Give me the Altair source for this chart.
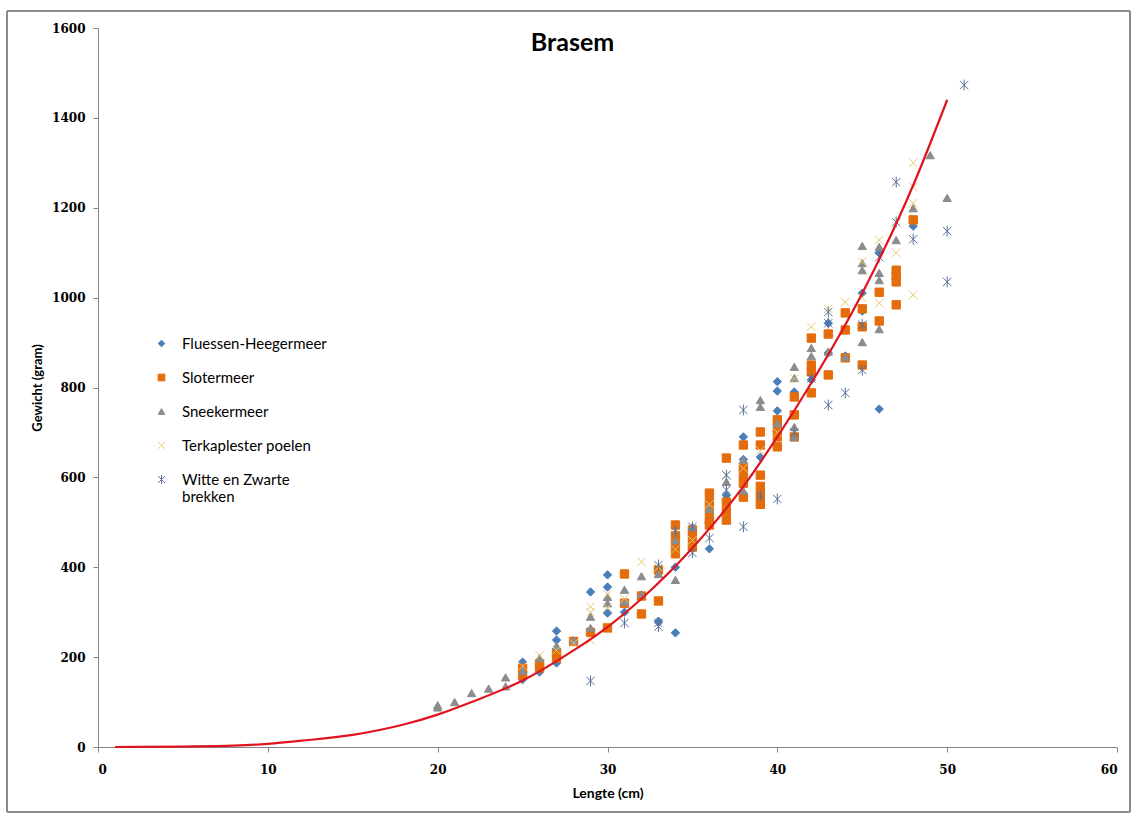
import altair as alt
import pandas as pd

# ---- data ----
series_names = ["Fluessen-Heegermeer", "Slotermeer", "Sneekermeer",
                "Terkaplester poelen", "Witte en Zwarte brekken"]

fh_len = [25, 25, 26, 27, 27, 27, 29, 30, 30, 30, 31, 33, 34, 34, 34, 35, 36, 37,
          38, 38, 39, 40, 40, 40, 41, 42, 42, 43, 43, 44, 45, 45, 46, 46, 48]
fh_wt = [189, 150, 167, 258, 238, 187, 345, 383, 356, 298, 300, 280, 254, 400, 470,
         470, 441, 560, 690, 640, 645, 813, 792, 748, 790, 817, 830, 943, 877, 870,
         1010, 970, 752, 1100, 1159]

sl_len = [25, 25, 26, 26, 27, 27, 28, 29, 30, 31, 31, 32, 32, 33, 33, 34, 34, 34, 34,
          35, 35, 35, 36, 36, 36, 36, 36, 37, 37, 37, 37, 38, 38, 38, 38, 38,
          39, 39, 39, 39, 39, 39, 40, 40, 40, 40, 41, 41, 41, 42, 42, 42, 42,
          43, 43, 44, 44, 44, 45, 45, 45, 46, 46, 47, 47, 47, 47, 48]
sl_wt = [175, 160, 176, 185, 198, 210, 235, 255, 265, 385, 320, 336, 296, 394, 325,
         494, 470, 450, 430, 483, 465, 445, 565, 545, 525, 505, 494, 643, 545, 525,
         505, 672, 623, 605, 587, 556, 701, 672, 605, 580, 560, 540, 728, 710, 690,
         668, 779, 739, 690, 910, 850, 835, 788, 919, 828, 966, 928, 866, 975, 935,
         850, 1012, 948, 1061, 1048, 1035, 984, 1173]

sn_len = [20, 20, 21, 22, 23, 24, 24, 25, 26, 27, 28, 29, 29, 30, 30, 31, 31, 32, 32,
          33, 34, 34, 35, 36, 37, 38, 38, 39, 39, 40, 41, 41, 41, 41, 42, 42, 43,
          44, 45, 45, 45, 45, 46, 46, 46, 46, 47, 48, 49, 50]
sn_wt = [93, 88, 100, 120, 130, 155, 135, 170, 198, 225, 238, 265, 290, 334, 320,
         350, 323, 380, 340, 385, 372, 460, 490, 530, 590, 639, 570, 772, 757, 720,
         846, 821, 712, 690, 888, 870, 880, 868, 1115, 1077, 1061, 901, 1113, 1055,
         1039, 930, 1128, 1199, 1317, 1222]

tp_len = [25, 26, 27, 28, 29, 29, 29, 30, 30, 31, 32, 33, 34, 34, 35, 36, 37, 38, 39,
          40, 41, 42, 43, 44, 45, 45, 46, 46, 47, 48, 48, 48, 48]
tp_wt = [180, 204, 215, 231, 312, 300, 238, 340, 310, 330, 412, 400, 480, 440, 460,
         540, 605, 620, 660, 700, 820, 935, 975, 990, 1080, 1000, 1128, 988, 1100,
         1300, 1246, 1210, 1006]

wz_len = [29, 31, 33, 33, 33, 34, 35, 35, 36, 37, 37, 38, 38, 39, 40, 41, 42, 43, 43,
          43, 44, 45, 45, 46, 47, 47, 48, 50, 50, 51]
wz_wt = [147, 276, 276, 268, 405, 480, 490, 432, 465, 605, 572, 750, 490, 560, 552,
         700, 820, 968, 943, 761, 788, 940, 839, 1090, 1257, 1168, 1130, 1148, 1035,
         1473]

curve_len = [1, 5, 8, 10, 12, 15, 18, 20, 22, 25, 28, 30, 32, 35, 38, 40, 42, 45, 48, 50]
curve_wt = [0, 1, 3, 7, 14, 27, 50, 72, 100, 148, 215, 267, 330, 443, 580, 690, 810,
            1010, 1250, 1440]

x_ticks = [0, 10, 20, 30, 40, 50, 60]
y_ticks = [0, 200, 400, 600, 800, 1000, 1200, 1400, 1600]

colors = ["#4A7EBB", "#E46C0A", "#8C8C8C", "#E6C86E", "#56709A"]
fills = ["#4A7EBB", "#E46C0A", "#8C8C8C", "transparent", "transparent"]
shapes = ["diamond", "square", "triangle-up",
          "M-1,-1L1,1M-1,1L1,-1",
          "M-1,-1L1,1M-1,1L1,-1M0,-1.3L0,1.3"]

# ---- build tables ----
rows = []
for name, ls, ws in zip(series_names,
                        [fh_len, sl_len, sn_len, tp_len, wz_len],
                        [fh_wt, sl_wt, sn_wt, tp_wt, wz_wt]):
    for l, w in zip(ls, ws):
        rows.append({"Meer": name, "Lengte": l, "Gewicht": w})
pts = pd.DataFrame(rows)
curve = pd.DataFrame({"Lengte": curve_len, "Gewicht": curve_wt})

LABEL_FONT = "DejaVu Serif"
TEXT_FONT = "Lato"

xscale = alt.Scale(domain=[0, 60], nice=False)
yscale = alt.Scale(domain=[0, 1600], nice=False)

xaxis = alt.Axis(title="Lengte (cm)", values=x_ticks, grid=False, format="d")
yaxis = alt.Axis(title="Gewicht (gram)", values=y_ticks, grid=False, format="d")

lab_expr = ("datum.label == 'Witte en Zwarte brekken' ? "
            "['Witte en Zwarte', 'brekken'] : datum.label")
legend_common = dict(title=None, labelExpr=lab_expr)

points = alt.Chart(pts).mark_point(size=70, strokeWidth=1, opacity=1).encode(
    x=alt.X("Lengte:Q", scale=xscale, axis=xaxis),
    y=alt.Y("Gewicht:Q", scale=yscale, axis=yaxis),
    shape=alt.Shape("Meer:N", scale=alt.Scale(domain=series_names, range=shapes),
                    legend=alt.Legend(**legend_common)),
    stroke=alt.Stroke("Meer:N", scale=alt.Scale(domain=series_names, range=colors),
                      legend=alt.Legend(**legend_common)),
    fill=alt.Fill("Meer:N", scale=alt.Scale(domain=series_names, range=fills),
                  legend=alt.Legend(**legend_common)),
)

line = alt.Chart(curve).mark_line(color="#E0141E", strokeWidth=2.2,
                                   interpolate="monotone").encode(
    x=alt.X("Lengte:Q", scale=xscale),
    y=alt.Y("Gewicht:Q", scale=yscale),
)

frame = alt.Chart(curve).mark_rect(fill="transparent", stroke="#8A8A8A",
                                   strokeWidth=1).encode(
    x=alt.value(-91), x2=alt.value(1032), y=alt.value(-17), y2=alt.value(784)
)

chart = alt.layer(frame, points, line).properties(
    width=1019,
    height=719,
    autosize=alt.AutoSizeParams(type="none"),
    padding={"left": 98, "top": 28, "right": 16, "bottom": 68},
    title=alt.Title("Brasem", anchor="middle", dx=-35, offset=-26, dy=44,
                    baseline="bottom", font=TEXT_FONT, fontSize=25,
                    fontWeight="bold", color="#000000"),
).configure_view(
    stroke=None
).configure_axis(
    domainColor="#868686",
    tickColor="#868686",
    tickSize=5,
    labelFont=LABEL_FONT,
    labelFontSize=12,
    labelColor="#000000",
    labelFontWeight="bold",
    titleFont=TEXT_FONT,
    titleFontWeight="bold",
    titleColor="#000000",
).configure_axisY(
    labelPadding=8,
    titlePadding=7,
    titleFontSize=13,
).configure_axisX(
    labelPadding=12,
    titlePadding=11,
    titleFontSize=14,
).configure_legend(
    orient="none",
    legendX=56,
    legendY=308,
    padding=0,
    labelFont=TEXT_FONT,
    labelFontSize=15,
    labelColor="#000000",
    labelOffset=13,
    rowPadding=18,
    symbolSize=45,
    symbolStrokeWidth=1,
)

chart.save("out.html", embed_options={"renderer": "svg", "actions": False})
